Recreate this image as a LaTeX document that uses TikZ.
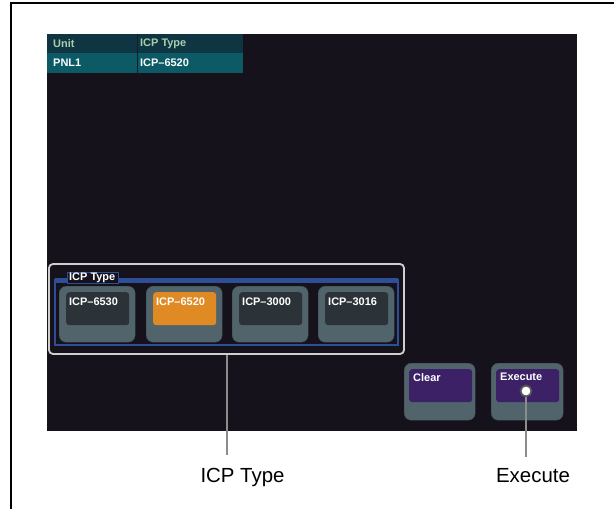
\documentclass[tikz,border=0pt]{standalone}
\usepackage{fontspec}
\setmainfont{Liberation Sans}
\usepackage{xcolor}
\usetikzlibrary{positioning}

\definecolor{screenbg}{HTML}{15121C}
\definecolor{hdrteal}{HTML}{0E3541}
\definecolor{rowteal}{HTML}{0B5A66}
\definecolor{hdrtext}{HTML}{A6CFAE}
\definecolor{keybody}{HTML}{51646C}
\definecolor{keyedge}{HTML}{3A4950}
\definecolor{panelgray}{HTML}{2B3339}
\definecolor{selorange}{HTML}{E08A24}
\definecolor{execpurple}{HTML}{3C2166}
\definecolor{grpblue}{HTML}{2E4F98}
\definecolor{framegray}{HTML}{CFCFCF}
\definecolor{calloutgray}{HTML}{8C8C8C}

\tikzset{
    key/.style={draw=keyedge, fill=keybody, rounded corners=7bp, minimum width=76bp, minimum height=56bp, inner sep=0pt, anchor=north west},
    keypanel/.style={fill=panelgray, rounded corners=3bp, minimum width=63bp, minimum height=33bp, inner sep=0pt, anchor=north west},
    keytext/.style={text=white, font=\bfseries\fontsize{11}{13}\selectfont, anchor=north west, inner sep=0pt},
    calloutline/.style={draw=calloutgray, line width=2bp},
    callouttext/.style={font=\fontsize{20.5}{24}\selectfont, anchor=base, inner sep=0pt}
}

\begin{document}
\begin{tikzpicture}[x=1bp,y=-1bp]
    \useasboundingbox (0,0) rectangle (614,509);
    % outer frame
    \draw[line width=1.5bp] (11,509) -- (11,3) -- (614,3);

    % screen
    \fill[screenbg] (47,34) rectangle (577,431);

    % unit table
    \fill[hdrteal] (47,34) rectangle (243,53);
    \fill[rowteal] (47,53) rectangle (243,73);
    \draw[screenbg!60!hdrteal, line width=0.8bp] (137,34) -- (137,73);
    \node[keytext, text=hdrtext, anchor=west] (unithdr) at (53,43.5) {Unit};
    \node[keytext, text=hdrtext, anchor=west] (typehdr) at (140,43.5) {ICP Type};
    \node[keytext, anchor=west] (unitval) at (53,63) {PNL1};
    \node[keytext, anchor=west] (typeval) at (140,63) {ICP--6520};

    % ICP type group
    \node[draw=framegray, line width=1.8bp, rounded corners=4bp, fill=screenbg,
          minimum width=355bp, minimum height=90bp, inner sep=0pt] (grp) at (226.5,309) {};
    \draw[grpblue, line width=1.2bp] (55,280) rectangle (398,345);
    \fill[grpblue] (55,278) rectangle (398,283);
    \node[draw=grpblue, fill=screenbg, line width=0.8bp, minimum width=51bp, minimum height=11bp,
          inner sep=0pt, anchor=north west] (grplabel) at (67,272) {};
    \node[keytext, anchor=west] (grptext) at (69,277.5) {ICP Type};

    \foreach \i/\x/\txt/\col in {1/59/ICP--6530/panelgray, 2/146/ICP--6520/selorange,
                                 3/232/ICP--3000/panelgray, 4/318/ICP--3016/panelgray}{
        \node[key] (key\i) at (\x,286) {};
        \node[keypanel, fill=\col] (keypanel\i) at (\x+7,292) {};
        \node[keytext] (keytext\i) at (\x+10,298) {\txt};
    }

    % clear / execute
    \node[key, minimum width=71bp, minimum height=57bp] (clear) at (404,363) {};
    \node[keypanel, fill=execpurple] (clearpanel) at (409,369) {};
    \node[keytext] (cleartext) at (413,373) {Clear};
    \node[key, minimum width=72bp, minimum height=57bp] (exec) at (491,363) {};
    \node[keypanel, fill=execpurple] (execpanel) at (496,369) {};
    \node[keytext] (exectext) at (500,373) {Execute};

    % callouts
    \coordinate (grpend) at (226.5,455);
    \draw[calloutline] (grp.south) -- (grpend);
    \node[callouttext] (grpcallout) at (242.5,482) {ICP Type};

    \node[circle, draw=calloutgray!60!black, fill=white, line width=1.8bp, minimum size=11bp, inner sep=0pt] (execdot) at (526,391) {};
    \coordinate (execend) at (526,457);
    \draw[calloutline] (execdot.south) -- (execend);
    \node[callouttext] (execcallout) at (533,482) {Execute};
\end{tikzpicture}
\end{document}
